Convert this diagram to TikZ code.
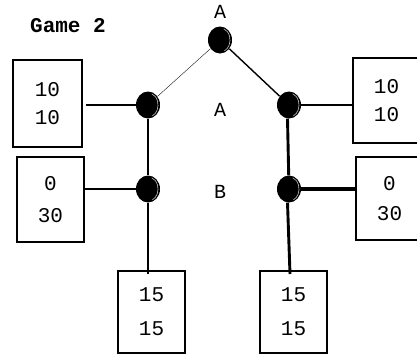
\documentclass[tikz,border=0pt]{standalone}
\usepackage{fontspec}
\usetikzlibrary{shapes.geometric}
\newfontfamily\mono{Liberation Mono}
\begin{document}
\begin{tikzpicture}[x=1pt,y=-1pt,
  payoff/.style={draw, line width=2pt, minimum width=67pt, inner sep=0pt,
    align=center, font=\mono\fontsize{21}{28}\selectfont},
  player/.style={font=\mono\fontsize{20}{24}\selectfont},
  ball/.style={draw=none, fill=black, ellipse, minimum width=24pt, minimum height=27pt, inner sep=0pt},
  branch/.style={line width=2.9pt},
]
\useasboundingbox (0,0) rectangle (417,356);

% decision nodes
\node[ball] (top) at (220,40) {};
\node[ball] (lA) at (148,105) {};
\node[ball] (rA) at (289,105) {};
\node[ball] (lB) at (148,189) {};
\node[ball] (rB) at (289,189) {};
% highlight on each ball
\foreach \n in {top,lA,rA,lB,rB}
  \draw[gray!50, line width=0.6pt]
    ([shift={(1.5,0)}]\n.center) ++(-70:8.5pt and 11.5pt) arc[start angle=-70, end angle=75, x radius=8.5pt, y radius=11.5pt];

% player labels
\node[player] (pTop) at (220,12) {A};
\node[player] (pA) at (220,110) {A};
\node[player] (pB) at (220,192) {B};
\node[font=\mono\bfseries\fontsize{21}{24}\selectfont] (title) at (68,26) {Game 2};

% payoff boxes
\node[payoff, minimum width=69pt, minimum height=87pt] (b1) at (47.5,103.5) {10\\10};
\node[payoff, minimum height=85pt] (b2) at (50.5,199.5) {0\\[4pt]30};
\node[payoff, minimum height=82pt] (b3) at (151.5,312) {15\\[6pt]15};
\node[payoff, minimum height=82pt] (b4) at (293.5,312) {15\\[6pt]15};
\node[payoff, minimum height=85pt] (b5) at (386.5,100.5) {10\\10};
\node[payoff, minimum height=83pt] (b6) at (389.5,198.5) {0\\[2pt]30};

% branches
\draw[line width=0.35pt] (top) -- (lA);
\draw[line width=1.4pt] (top) -- (rA);
\draw[branch] (lA) -- ([xshift=3pt]lA -| b1.east);
\draw[branch] (lA) -- (lB);
\draw[branch] (lB) -- (lB -| b2.east);
\draw[branch] (lB) -- ([yshift=-4pt]lB |- b3.north);
\draw[branch] (rA) -- (rA -| b5.west);
\draw[branch] ([xshift=-1.5pt]rA.south) -- (rB);
\draw[line width=3.6pt] (rB) -- (rB -| b6.west);
\draw[branch] ([xshift=-1.5pt]rB.south) -- ([xshift=1pt,yshift=-4pt]rB |- b4.north);
\end{tikzpicture}
\end{document}
